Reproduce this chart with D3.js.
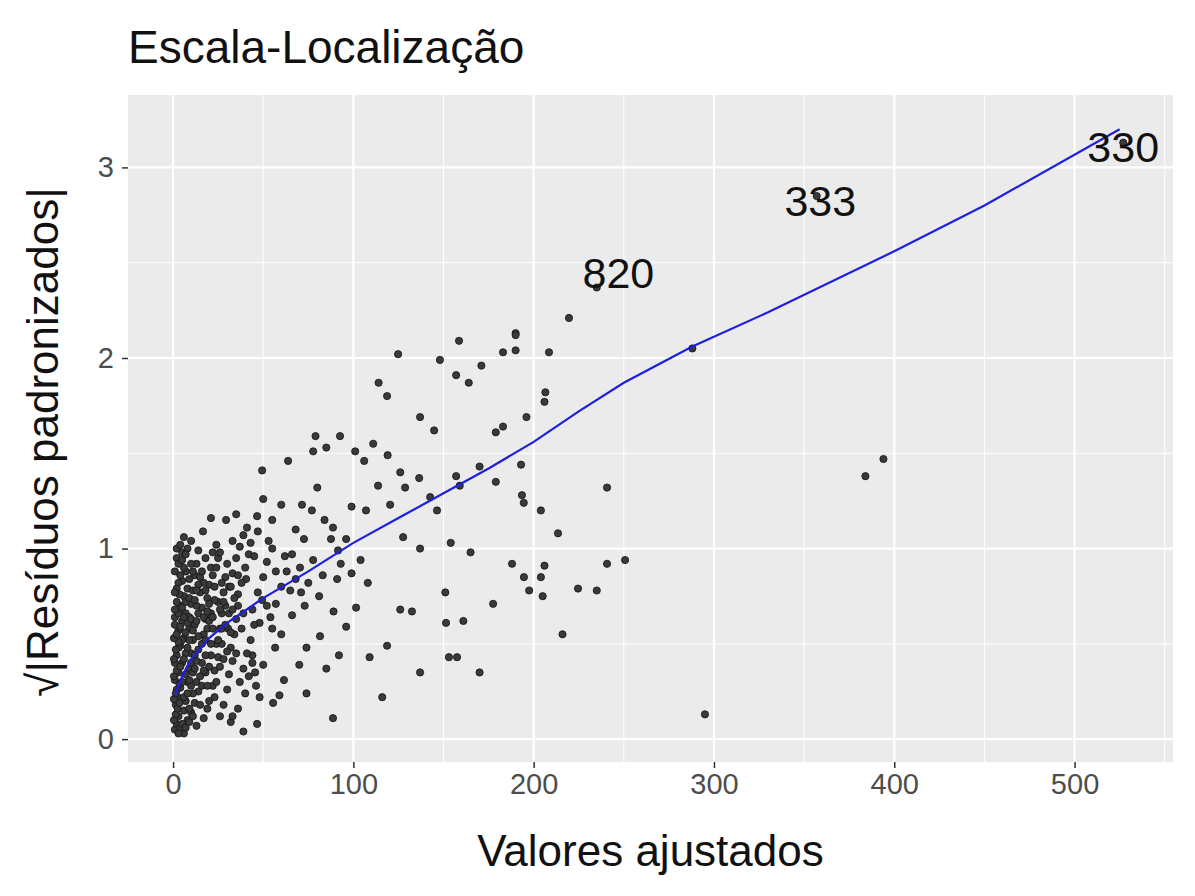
<!DOCTYPE html>
<html><head><meta charset="utf-8">
<script src="https://cdn.jsdelivr.net/npm/d3@7"></script>
<style>body{margin:0;background:#fff}text{font-family:"Liberation Sans",Arial,sans-serif}</style>
</head><body><svg id="chart" width="1195" height="896"></svg>
<script>
// fitted values (x) and sqrt|standardized residuals| (y)
let pts = [
[235,2.37],[219.6,2.21],[288,2.05],[190,2.13],[158.6,2.09],[124.8,2.02],[148,1.99],[183,2.03],[190,2.12],[208.5,2.03],
[157,1.91],[164,1.87],[171,1.96],[190,2.04],[114,1.87],[118.7,1.80],[206.5,1.82],[206,1.77],[196,1.69],[183,1.64],
[179,1.61],[92.6,1.59],[137,1.69],[144.8,1.62],[79,1.59],[77.7,1.51],[85,1.53],[101,1.51],[111,1.55],[119,1.49],
[126,1.40],[136.5,1.37],[157,1.38],[159,1.33],[170,1.43],[179,1.35],[193,1.44],[193.5,1.28],[194.5,1.24],[204,1.20],
[146.4,1.20],[142.6,1.27],[128.7,1.32],[106,1.46],[120.4,1.23],[107,1.20],[99,1.22],[113.7,1.33],[127.6,1.06],[137,1.00],
[154,1.03],[165,0.98],[188,0.92],[194.6,0.85],[197.5,0.78],[206,0.91],[213.5,1.08],[204,0.85],[205,0.75],[224.6,0.79],
[235,0.78],[240.7,0.92],[250.7,0.94],[240.7,1.32],[216,0.55],[177.5,0.71],[151,0.77],[161,0.62],[151.4,0.61],[153,0.43],
[157.5,0.43],[170,0.35],[137,0.35],[116,0.22],[88.7,0.11],[295,0.13],[384,1.38],[394,1.47],[101.5,0.69],[126,0.68],
[132.5,0.67],[118.7,0.49],[96,0.59],[109,0.43],[92,0.44],[85,0.37],[70,0.39],[74,0.24],[39,0.04],[46.6,0.08],
[32,0.09],[33,0.12],[55.5,0.19],[59,0.23],[61.5,0.31],[45.5,0.35],[50,0.39],[81.5,0.54],[74,0.48],[89,0.67],
[81,0.75],[83,0.86],[91,0.84],[99,0.87],[104,0.94],[108,0.82],[93,0.92],[87.6,1.05],[91.5,0.99],[96,1.05],
[88.7,1.11],[84,1.15],[71.5,1.23],[55,1.15],[50,1.26],[46.6,1.17],[35,1.18],[29.4,1.15],[33,1.04],[16.6,1.09],
[21,1.16],[49.4,1.41],[63.8,1.46],[53,1.04],[62,0.96],[70.4,0.90],[68,1.10],[60,1.23],[80,1.32],[77,1.20],
[72.6,1.05],[77.7,0.94],[40.5,0.84],[49.4,0.73],[36,0.70],[48,0.61],[30.5,0.58],[55,0.58],[66,0.65],[56.6,0.48],
[44,0.44],[65,0.78],[357,2.85],[527,3.13],
// dense cluster near the origin
[1,0.05],[2,0.08],[3,0.12],[1.5,0.18],[2.5,0.22],[4,0.27],[1,0.31],[3,0.35],[5,0.40],[2,0.44],
[4,0.49],[6,0.53],[3,0.57],[5,0.62],[7,0.66],[4,0.70],[6,0.75],[8,0.79],[5,0.83],[7,0.88],
[2,0.26],[3,0.48],[1,0.60],[2,0.72],[6,0.15],[7,0.20],[8,0.30],[9,0.37],[10,0.45],[11,0.52],
[12,0.60],[9,0.64],[10,0.71],[11,0.78],[12,0.86],[13,0.92],[8,0.10],[10,0.14],[12,0.19],[14,0.25],
[15,0.33],[16,0.40],[14,0.47],[17,0.55],[18,0.63],[16,0.69],[19,0.74],[20,0.81],[15,0.85],[18,0.95],
[21,0.90],[22,0.98],[24,1.02],[20,0.20],[22,0.28],[23,0.36],[25,0.43],[24,0.50],[26,0.58],[27,0.66],
[25,0.72],[28,0.77],[29,0.85],[30,0.92],[26,0.12],[28,0.18],[30,0.26],[31,0.34],[33,0.41],[32,0.48],
[34,0.55],[35,0.63],[36,0.76],[38,0.82],[40,0.90],[42,0.97],[37,0.30],[39,0.37],[41,0.45],[43,0.52],
[45,0.60],[44,0.68],[47,0.77],[50,0.85],[52,0.93],[55,1.00],[57,0.88],[60,0.80],[46,0.28],[48,0.22],
[13,0.07],[17,0.11],[19,0.16],[6,0.03],[4,0.06],[11,0.24],[9,0.58],[13,0.70],[15,0.77],[17,0.82],
[19,0.58],[21,0.66],[23,0.73],[21,0.44],[27,0.50],[29,0.70],[31,0.80],[33,0.87],[35,0.95],[37,1.01],
[39,1.07],[41,1.11],[43,1.03],[45,0.96],[47,1.09],[52,0.70],[54,0.64],[57,0.71],[60,0.55],[63,0.88],
[66,0.97],[68,0.84],[71,0.77],[73,0.70],[75,0.82],[36,0.16],[40,0.24],[42,0.33],[44,0.40],[2,0.95],
[5,0.98],[8,1.00],[3,0.82],[1,0.88],[10,0.92],[14,0.99],[7,0.45],[5,0.52],[1,0.40],[18,0.35],
[0.5,0.10],[1.5,0.13],[2.5,0.16],[3.5,0.19],[0.5,0.21],[1.5,0.24],[3.5,0.29],[0.5,0.33],[2,0.36],[4,0.38],
[0.5,0.42],[1.5,0.47],[3,0.51],[0.5,0.53],[2,0.55],[4,0.59],[1,0.64],[3,0.66],[5,0.69],[1,0.68],
[2,0.79],[3.5,0.76],[1,0.77],[4,0.86],[6,0.90],[3,0.92],[5,0.94],[7,0.97],[9,0.84],[11,0.88],
[6,0.22],[5,0.30],[7,0.34],[6,0.42],[8,0.48],[7,0.56],[8,0.61],[6,0.64],[7,0.72],[9,0.74],
[9,0.16],[8,0.24],[10,0.28],[9,0.31],[11,0.35],[10,0.40],[12,0.44],[9,0.52],[11,0.57],[10,0.63],
[13,0.30],[12,0.37],[13,0.41],[14,0.54],[13,0.62],[14,0.66],[12,0.73],[14,0.81],[13,0.78],[16,0.88],
[15,0.18],[16,0.28],[17,0.36],[18,0.44],[16,0.50],[18,0.52],[17,0.64],[19,0.67],[18,0.78],[20,0.71],
[19,0.28],[20,0.38],[21,0.50],[22,0.58],[20,0.62],[22,0.64],[23,0.80],[22,0.86],[24,0.90],[25,0.95],
[23,0.22],[24,0.30],[26,0.38],[25,0.52],[27,0.58],[26,0.68],[28,0.72],[27,0.82],[29,0.60],[31,0.66],
[28,0.42],[30,0.46],[32,0.56],[33,0.68],[34,0.74],[32,0.80],[36,0.86],[35,0.45],[38,0.58],[39,0.66],
[3,0.03],[5,0.08],[7,0.06],[9,0.09],[11,0.12],[2,1.00],[4,1.02],[6,1.06],[10,1.04],[26,0.98]
];
let smoothX = [1,5,10,20,30,50,75,100,125,150,175,200,225,250,288,330,400,450,525];
let smoothY = [0.23,0.33,0.42,0.53,0.61,0.74,0.88,1.03,1.16,1.29,1.42,1.56,1.72,1.87,2.06,2.24,2.56,2.80,3.20];
let labelIds = ["820","333","330"];
let labelX = [247,359,527];
let labelY = [2.45,2.83,3.11];
let xTicks = [0,100,200,300,400,500];
let yTicks = [0,1,2,3];

let svg = d3.select('#chart');
let pLeft = 128, pRight = 1173, pTop = 95, pBottom = 762;
let x = d3.scaleLinear().domain([-25, 554.6]).range([pLeft, pRight]);
let y = d3.scaleLinear().domain([-0.12, 3.38]).range([pBottom, pTop]);

svg.append('rect').attr('x',pLeft).attr('y',pTop).attr('width',pRight-pLeft).attr('height',pBottom-pTop).attr('fill','#ebebeb');

let g = svg.append('g');
// minor grid
d3.range(50,551,100).forEach(v=>g.append('line').attr('x1',x(v)).attr('x2',x(v)).attr('y1',pTop).attr('y2',pBottom).attr('stroke','#fff').attr('stroke-width',1));
[0.5,1.5,2.5].forEach(v=>g.append('line').attr('y1',y(v)).attr('y2',y(v)).attr('x1',pLeft).attr('x2',pRight).attr('stroke','#fff').attr('stroke-width',1));
// major grid
xTicks.forEach(v=>g.append('line').attr('x1',x(v)).attr('x2',x(v)).attr('y1',pTop).attr('y2',pBottom).attr('stroke','#fff').attr('stroke-width',2.2));
yTicks.forEach(v=>g.append('line').attr('y1',y(v)).attr('y2',y(v)).attr('x1',pLeft).attr('x2',pRight).attr('stroke','#fff').attr('stroke-width',2.2));

svg.append('g').selectAll('circle').data(pts).enter().append('circle')
  .attr('cx',d=>x(d[0])).attr('cy',d=>y(d[1])).attr('r',3.6)
  .attr('fill','#3a3a3a').attr('stroke','#111').attr('stroke-width',0.8);

let line = d3.line().x(d=>x(d[0])).y(d=>y(d[1]));
svg.append('path').datum(smoothX.map((v,i)=>[v,smoothY[i]]))
  .attr('d',line).attr('fill','none').attr('stroke','#1f1fe0').attr('stroke-width',2.2);

svg.append('g').selectAll('text').data(labelIds).enter().append('text')
  .attr('x',(d,i)=>x(labelX[i])).attr('y',(d,i)=>y(labelY[i])+16)
  .attr('text-anchor','middle').attr('font-size',43).attr('fill','#111').text(d=>d);

// axes
let xa = svg.append('g').attr('transform','translate(0,'+pBottom+')')
  .call(d3.axisBottom(x).tickValues(xTicks).tickFormat(d3.format('d')).tickSize(6).tickPadding(5));
let ya = svg.append('g').attr('transform','translate('+pLeft+',0)')
  .call(d3.axisLeft(y).tickValues(yTicks).tickFormat(d3.format('d')).tickSize(6).tickPadding(8));
[xa,ya].forEach(a=>{
  a.select('.domain').remove();
  a.selectAll('line').attr('stroke','#333').attr('stroke-width',1.5);
  a.selectAll('text').attr('font-size',29).attr('fill','#4d4d4d').style('font-family','"Liberation Sans", Arial, sans-serif');
});

svg.append('text').attr('x',128).attr('y',63).attr('font-size',46).attr('fill','#111').text('Escala-Localização');
svg.append('text').attr('x',(pLeft+pRight)/2).attr('y',866).attr('text-anchor','middle').attr('font-size',44).attr('fill','#111').text('Valores ajustados');
svg.append('text').attr('transform','translate(58,'+442+') rotate(-90)')
  .attr('text-anchor','middle').attr('font-size',44).attr('fill','#111').text('√|Resíduos padronizados|');
</script></body></html>
